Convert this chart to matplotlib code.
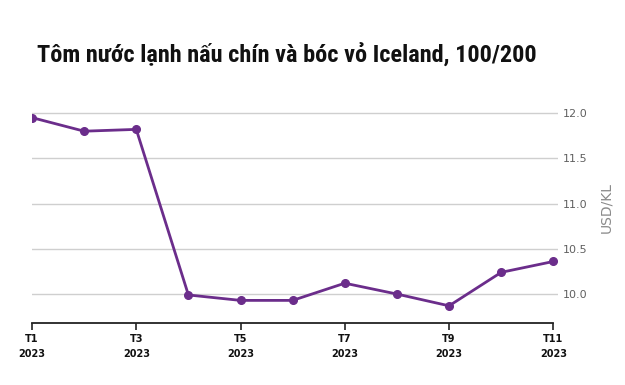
import matplotlib
matplotlib.use('Agg')
import matplotlib.pyplot as plt
from matplotlib import font_manager

months = ['T1', 'T2', 'T3', 'T4', 'T5', 'T6', 'T7', 'T8', 'T9', 'T10', 'T11']
prices = [11.95, 11.80, 11.82, 9.99, 9.93, 9.93, 10.12, 10.00, 9.87, 10.24, 10.36]
tick_labels = ['T1\n2023', 'T3\n2023', 'T5\n2023', 'T7\n2023', 'T9\n2023', 'T11\n2023']
y_ticks = [10.0, 10.5, 11.0, 11.5, 12.0]
title = 'Tôm nước lạnh nấu chín và bóc vỏ Iceland, 100/200'
unit = 'USD/KL'

names = {f.name for f in font_manager.fontManager.ttflist}
title_font, title_size = 'Roboto', 15.5
for cand in ['Roboto Condensed', 'Liberation Sans Narrow', 'Noto Sans Condensed',
             'Open Sans Condensed', 'DejaVu Sans Condensed']:
    if cand in names:
        title_font, title_size = cand, 17.5
        break

purple = '#6b2d8b'

fig = plt.figure(figsize=(6.25, 3.85), dpi=100)
ax = fig.add_axes([0.0512, 0.161, 0.8408, 0.557])

x = list(range(len(months)))
ax.plot(x, prices, color=purple, lw=2, marker='o', ms=5.5, zorder=3)

ax.set_xlim(0, 10.08)
ax.set_ylim(9.68, 12.05)
ax.set_xticks(x[::2])
ax.set_xticklabels(tick_labels, fontsize=7, fontweight='bold', color='#111111',
                   linespacing=1.6)
ax.tick_params(axis='x', length=5, width=1.2, color='#222222', pad=3)

ax.yaxis.tick_right()
ax.set_yticks(y_ticks)
ax.set_yticklabels([f'{v:.1f}' for v in y_ticks], fontsize=8, color='#606060')
ax.tick_params(axis='y', length=0, pad=4)
ax.yaxis.set_label_position('right')
ax.set_ylabel(unit, fontsize=10, color='#8a8a8a')
ax.yaxis.set_label_coords(1.08, 0.54)

ax.grid(axis='y', color='#cfcfcf', lw=1)
ax.set_axisbelow(True)
for s in ['top', 'left', 'right']:
    ax.spines[s].set_visible(False)
ax.spines['bottom'].set_bounds(0, 10)
ax.spines['bottom'].set_color('#222222')
ax.spines['bottom'].set_linewidth(1.3)

fig.text(0.059, 0.857, title, fontsize=title_size, fontweight='bold', family=title_font,
         color='#111111', va='center')

fig.savefig('out.png', dpi=100, facecolor='white')
